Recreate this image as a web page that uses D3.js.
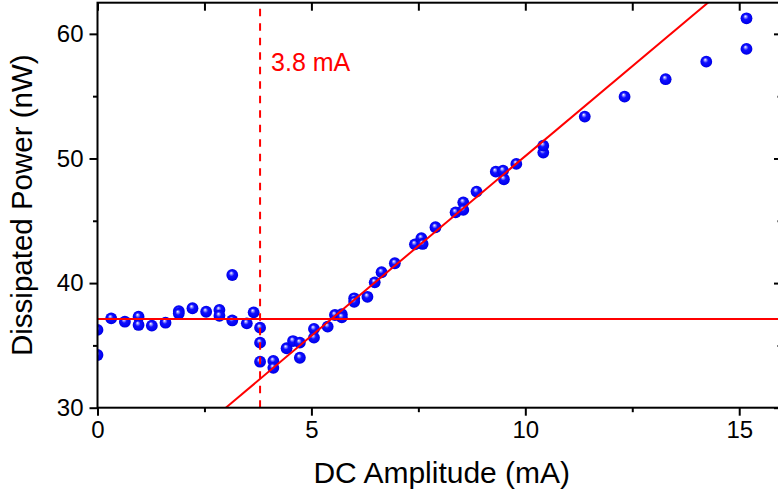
<!DOCTYPE html>
<html>
<head>
<meta charset="utf-8">
<script src="https://cdn.jsdelivr.net/npm/d3@7"></script>
<style>
  html, body { margin: 0; padding: 0; background: #fff; }
  svg { display: block; }
  text { font-family: "Liberation Sans", Arial, sans-serif; }
</style>
</head>
<body>
<svg id="chart" width="778" height="495"></svg>
<script>
// ---- Data ----
const currentMA = [0.0, 0.0, 0.32, 0.64, 0.96, 0.96, 1.27, 1.59, 1.90, 1.90, 2.22, 2.54, 2.85, 2.85,
  3.15, 3.15, 3.49, 3.65, 3.80, 3.80, 3.80, 4.11, 4.11, 4.42, 4.57, 4.73, 4.73, 5.06, 5.06, 5.38,
  5.55, 5.71, 5.71, 6.00, 6.00, 6.31, 6.48, 6.64, 6.95, 7.42, 7.57, 7.60, 7.90, 8.37, 8.55, 8.55,
  8.86, 9.31, 9.48, 9.50, 9.79, 10.42, 10.42, 11.39, 12.32, 13.28, 14.23, 15.17, 15.17];
const powerNW = [36.24, 34.23, 37.17, 36.90, 37.30, 36.64, 36.58, 36.82, 37.75, 37.55, 37.98, 37.70, 37.84, 37.38,
  40.65, 37.00, 36.77, 37.65, 36.42, 35.22, 33.69, 33.75, 33.20, 34.77, 35.35, 35.22, 34.01, 36.32, 35.62, 36.50,
  37.44, 37.50, 37.26, 38.78, 38.50, 38.90, 40.06, 40.87, 41.59, 43.11, 43.60, 43.14, 44.48, 45.68, 46.48, 45.87,
  47.34, 48.94, 49.02, 48.33, 49.56, 50.47, 51.03, 53.36, 54.96, 56.36, 57.77, 58.79, 61.25];
const thresholdMA = 3.8;
const thresholdLabel = "3.8 mA";
const baselineNW = 37.12;
const fitSlope = 2.884;      // nW per mA
const fitIntercept = 21.35;  // nW
const fitStartMA = 3.0;
const xTickLabels = [0, 5, 10, 15];
const xMinorTicks = [2.5, 7.5, 12.5];
const yTickLabels = [30, 40, 50, 60];
const yMinorTicks = [35, 45, 55];
const xDomain = [0, 16];
const yDomain = [30, 62.5];
const xTitle = "DC Amplitude (mA)";
const yTitle = "Dissipated Power (nW)";

// ---- Layout ----
const svg = d3.select("#chart");
const L = 97.5, R = 782, T = 2.7, B = 407.7;
const x = d3.scaleLinear().domain(xDomain).range([L, R]);
const y = d3.scaleLinear().domain(yDomain).range([B, T]);

const defs = svg.append("defs");
defs.append("clipPath").attr("id", "plotclip")
  .append("rect").attr("x", L).attr("y", T).attr("width", R - L).attr("height", B - T);
const grad = defs.append("radialGradient").attr("id", "sphere")
  .attr("cx", "0.5").attr("cy", "0.5").attr("r", "0.55")
  .attr("fx", "0.4").attr("fy", "0.32");
grad.append("stop").attr("offset", "0").attr("stop-color", "#ffffff");
grad.append("stop").attr("offset", "0.16").attr("stop-color", "#9a9aff");
grad.append("stop").attr("offset", "0.4").attr("stop-color", "#1010ff");
grad.append("stop").attr("offset", "0.85").attr("stop-color", "#0000ee");
grad.append("stop").attr("offset", "1").attr("stop-color", "#0000b8");

const plot = svg.append("g").attr("clip-path", "url(#plotclip)");

// points
const pts = currentMA.map((c, i) => ({ c, p: powerNW[i] }));
plot.selectAll("circle.pt").data(pts).enter().append("circle")
  .attr("class", "pt")
  .attr("cx", d => x(d.c)).attr("cy", d => y(d.p)).attr("r", 5.9)
  .attr("fill", "url(#sphere)");

// baseline
plot.append("line")
  .attr("x1", x(xDomain[0])).attr("x2", x(xDomain[1]))
  .attr("y1", y(baselineNW)).attr("y2", y(baselineNW))
  .attr("stroke", "#ff0000").attr("stroke-width", 2);

// linear fit
const fitEnd = xDomain[1];
plot.append("line")
  .attr("x1", x(fitStartMA)).attr("y1", y(fitSlope * fitStartMA + fitIntercept))
  .attr("x2", x(fitEnd)).attr("y2", y(fitSlope * fitEnd + fitIntercept))
  .attr("stroke", "#ff0000").attr("stroke-width", 2);

// threshold dashed
plot.append("line")
  .attr("x1", x(thresholdMA)).attr("x2", x(thresholdMA))
  .attr("y1", y(yDomain[0])).attr("y2", y(yDomain[1]))
  .attr("stroke", "#ff0000").attr("stroke-width", 2)
  .attr("stroke-dasharray", "7.5,7");

svg.append("text")
  .attr("x", x(thresholdMA) + 11).attr("y", 71)
  .attr("fill", "#ff0000").attr("font-size", 25)
  .text(thresholdLabel);

// ---- Axes ----
const major = 8, minor = 4.5;
function styleAxis(g) {
  g.selectAll(".domain").remove();
  g.selectAll(".tick line").attr("stroke", "#000").attr("stroke-width", 2);
  g.selectAll(".tick text").attr("font-family", "Liberation Sans, Arial, sans-serif")
    .attr("font-size", 24).attr("fill", "#000");
}
// bottom
svg.append("g").attr("transform", `translate(0,${B})`)
  .call(d3.axisBottom(x).tickValues(xTickLabels).tickSize(major).tickPadding(5).tickFormat(d3.format("d")))
  .call(styleAxis);
svg.append("g").attr("transform", `translate(0,${B})`)
  .call(d3.axisBottom(x).tickValues(xMinorTicks).tickSize(minor).tickFormat(""))
  .call(styleAxis);
// top (inward)
svg.append("g").attr("transform", `translate(0,${T})`)
  .call(d3.axisBottom(x).tickValues(xTickLabels.concat(xMinorTicks)).tickSize(major).tickFormat(""))
  .call(styleAxis);
// left
svg.append("g").attr("transform", `translate(${L},0)`)
  .call(d3.axisLeft(y).tickValues(yTickLabels).tickSize(major).tickPadding(6).tickFormat(d3.format("d")))
  .call(styleAxis);
svg.append("g").attr("transform", `translate(${L},0)`)
  .call(d3.axisLeft(y).tickValues(yMinorTicks).tickSize(minor).tickFormat(""))
  .call(styleAxis);
// right (inward)
svg.append("g").attr("transform", `translate(${R},0)`)
  .call(d3.axisLeft(y).tickValues(yTickLabels).tickSize(major).tickFormat(""))
  .call(styleAxis);
svg.append("g").attr("transform", `translate(${R},0)`)
  .call(d3.axisLeft(y).tickValues(yMinorTicks).tickSize(minor).tickFormat(""))
  .call(styleAxis);

// frame
svg.append("rect").attr("x", L).attr("y", T).attr("width", R - L).attr("height", B - T)
  .attr("fill", "none").attr("stroke", "#000").attr("stroke-width", 2);

// titles
svg.append("text")
  .attr("x", (L + R) / 2 + 2).attr("y", 483)
  .attr("text-anchor", "middle").attr("font-size", 30).attr("fill", "#000")
  .text(xTitle);
svg.append("text")
  .attr("transform", `translate(32,${(T + B) / 2}) rotate(-90)`)
  .attr("text-anchor", "middle").attr("font-size", 29.5).attr("fill", "#000")
  .text(yTitle);
</script>
</body>
</html>
